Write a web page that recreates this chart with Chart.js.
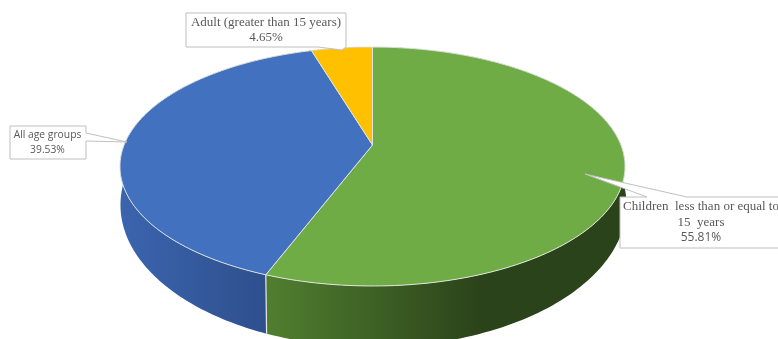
<!DOCTYPE html>
<html>
<head>
<meta charset="utf-8">
<title>Age groups</title>
<script src="https://cdn.jsdelivr.net/npm/chart.js@4"></script>
<style>
html,body{margin:0;padding:0;background:#fff;overflow:hidden}
canvas{display:block}
</style>
</head>
<body>
<canvas id="pie" width="778" height="339"></canvas>
<script>
// Share of cases per age group, clockwise from twelve o'clock.
const categories = ['Children less than or equal to 15 years', 'All age groups', 'Adult (greater than 15 years)'];
const shares = [55.81, 39.53, 4.65];
const faceColors = ['#6fac46', '#4271bf', '#ffc000'];
const wallColors = [['#507e2f', '#2b431a'], ['#3b64ae', '#2e4f8c'], ['#bf9000', '#7f6000']];
const wallSpans = [[268, 480], [122, 268], [300, 372]];

// Callout layout: box, wedge base and tip, text lines with their fonts.
const SERIF = '13px "Liberation Serif"';
const SANS = '12px "Open Sans"';
const SANS_SMALL = '10.3px "Open Sans"';
const callouts = [
  { box: [620, 197, 170, 51], side: 'top', base: [647, 687], tip: [585, 174],
    centerX: 701, lines: [['Children  less than or equal to', SERIF, 207], ['15  years', SERIF, 223], ['55.81%', SANS, 238]] },
  { box: [10, 126, 76, 33], side: 'right', base: [133, 141], tip: [127, 142],
    centerX: 47.5, lines: [['All age groups', SANS_SMALL, 135], ['39.53%', SANS_SMALL, 150]] },
  { box: [186, 13, 160, 34], side: 'bottom', base: [318, 346], tip: [342, 50],
    centerX: 266, lines: [['Adult (greater than 15 years)', SERIF, 23], ['4.65%', SERIF, 38]] }
];

// Perspective projection of the unit disc onto the tilted top face and the lower rim.
const TILT = 0.18;
const upperPlane = { x: 372.5, y: 145, a: 248.4, b: 115.6 };
const lowerPlane = { x: 373.5, y: 179.4, a: 248.9, b: 137.4 };
function project(plane, angle) {
  const u = Math.cos(angle), v = Math.sin(angle), w = 1 - TILT * v;
  return [plane.x + plane.a * u / w, plane.y + plane.b * v / w];
}
function traceRim(ctx, plane, from, to, first) {
  const steps = 160;
  for (let i = 0; i <= steps; i++) {
    const p = project(plane, from + (to - from) * i / steps);
    if (i === 0 && first) ctx.moveTo(p[0], p[1]); else ctx.lineTo(p[0], p[1]);
  }
}

const pie3d = {
  id: 'pie3d',
  beforeDatasetsDraw(chart) {
    const ctx = chart.ctx;
    const arcs = chart.getDatasetMeta(0).data;
    ctx.save();
    ctx.lineJoin = 'round';

    // Side walls go first so the top faces hide their back halves.
    arcs.forEach((arc, i) => {
      const { startAngle, endAngle } = arc.getProps(['startAngle', 'endAngle'], true);
      const g = ctx.createLinearGradient(wallSpans[i][0], 0, wallSpans[i][1], 0);
      g.addColorStop(0, wallColors[i][0]);
      g.addColorStop(1, wallColors[i][1]);
      ctx.beginPath();
      traceRim(ctx, upperPlane, startAngle, endAngle, true);
      traceRim(ctx, lowerPlane, endAngle, startAngle, false);
      ctx.closePath();
      ctx.fillStyle = g;
      ctx.fill();
    });

    // Seam between the two front wall segments.
    const seam = arcs[1].getProps(['startAngle'], true).startAngle;
    const s0 = project(upperPlane, seam), s1 = project(lowerPlane, seam);
    ctx.strokeStyle = '#e6e6e6';
    ctx.lineWidth = 1.2;
    ctx.beginPath();
    ctx.moveTo(s0[0], s0[1]);
    ctx.lineTo(s1[0], s1[1]);
    ctx.stroke();

    // Top faces with a thin pale outline.
    arcs.forEach((arc, i) => {
      const { startAngle, endAngle } = arc.getProps(['startAngle', 'endAngle'], true);
      ctx.beginPath();
      ctx.moveTo(upperPlane.x, upperPlane.y);
      traceRim(ctx, upperPlane, startAngle, endAngle, false);
      ctx.closePath();
      ctx.fillStyle = faceColors[i];
      ctx.strokeStyle = '#dfe3dc';
      ctx.lineWidth = 1;
      ctx.fill();
      ctx.stroke();
    });
    ctx.restore();
    return false;
  },
  afterDraw(chart) {
    const ctx = chart.ctx;
    ctx.save();
    callouts.forEach(c => {
      const [x, y, w, h] = c.box;
      ctx.beginPath();
      ctx.moveTo(x, y);
      if (c.side === 'top') {
        ctx.lineTo(c.base[0], y); ctx.lineTo(c.tip[0], c.tip[1]); ctx.lineTo(c.base[1], y);
      }
      ctx.lineTo(x + w, y);
      if (c.side === 'right') {
        ctx.lineTo(x + w, c.base[0]); ctx.lineTo(c.tip[0], c.tip[1]); ctx.lineTo(x + w, c.base[1]);
      }
      ctx.lineTo(x + w, y + h);
      if (c.side === 'bottom') {
        ctx.lineTo(c.tip[0], c.tip[1]); ctx.lineTo(c.base[0], y + h);
      }
      ctx.lineTo(x, y + h);
      ctx.closePath();
      ctx.fillStyle = '#ffffff';
      ctx.strokeStyle = '#bfbfbf';
      ctx.lineWidth = 1;
      ctx.fill();
      ctx.stroke();
      ctx.fillStyle = '#595959';
      ctx.textAlign = 'center';
      ctx.textBaseline = 'middle';
      c.lines.forEach(([text, font, ty]) => {
        ctx.font = font;
        ctx.fillText(text, c.centerX, ty);
      });
    });
    ctx.restore();
  }
};

new Chart(document.getElementById('pie'), {
  type: 'pie',
  data: {
    labels: categories,
    datasets: [{ data: shares, backgroundColor: faceColors, borderWidth: 0 }]
  },
  options: {
    responsive: false,
    animation: false,
    plugins: { legend: { display: false }, tooltip: { enabled: false } }
  },
  plugins: [pie3d]
});
</script>
</body>
</html>
